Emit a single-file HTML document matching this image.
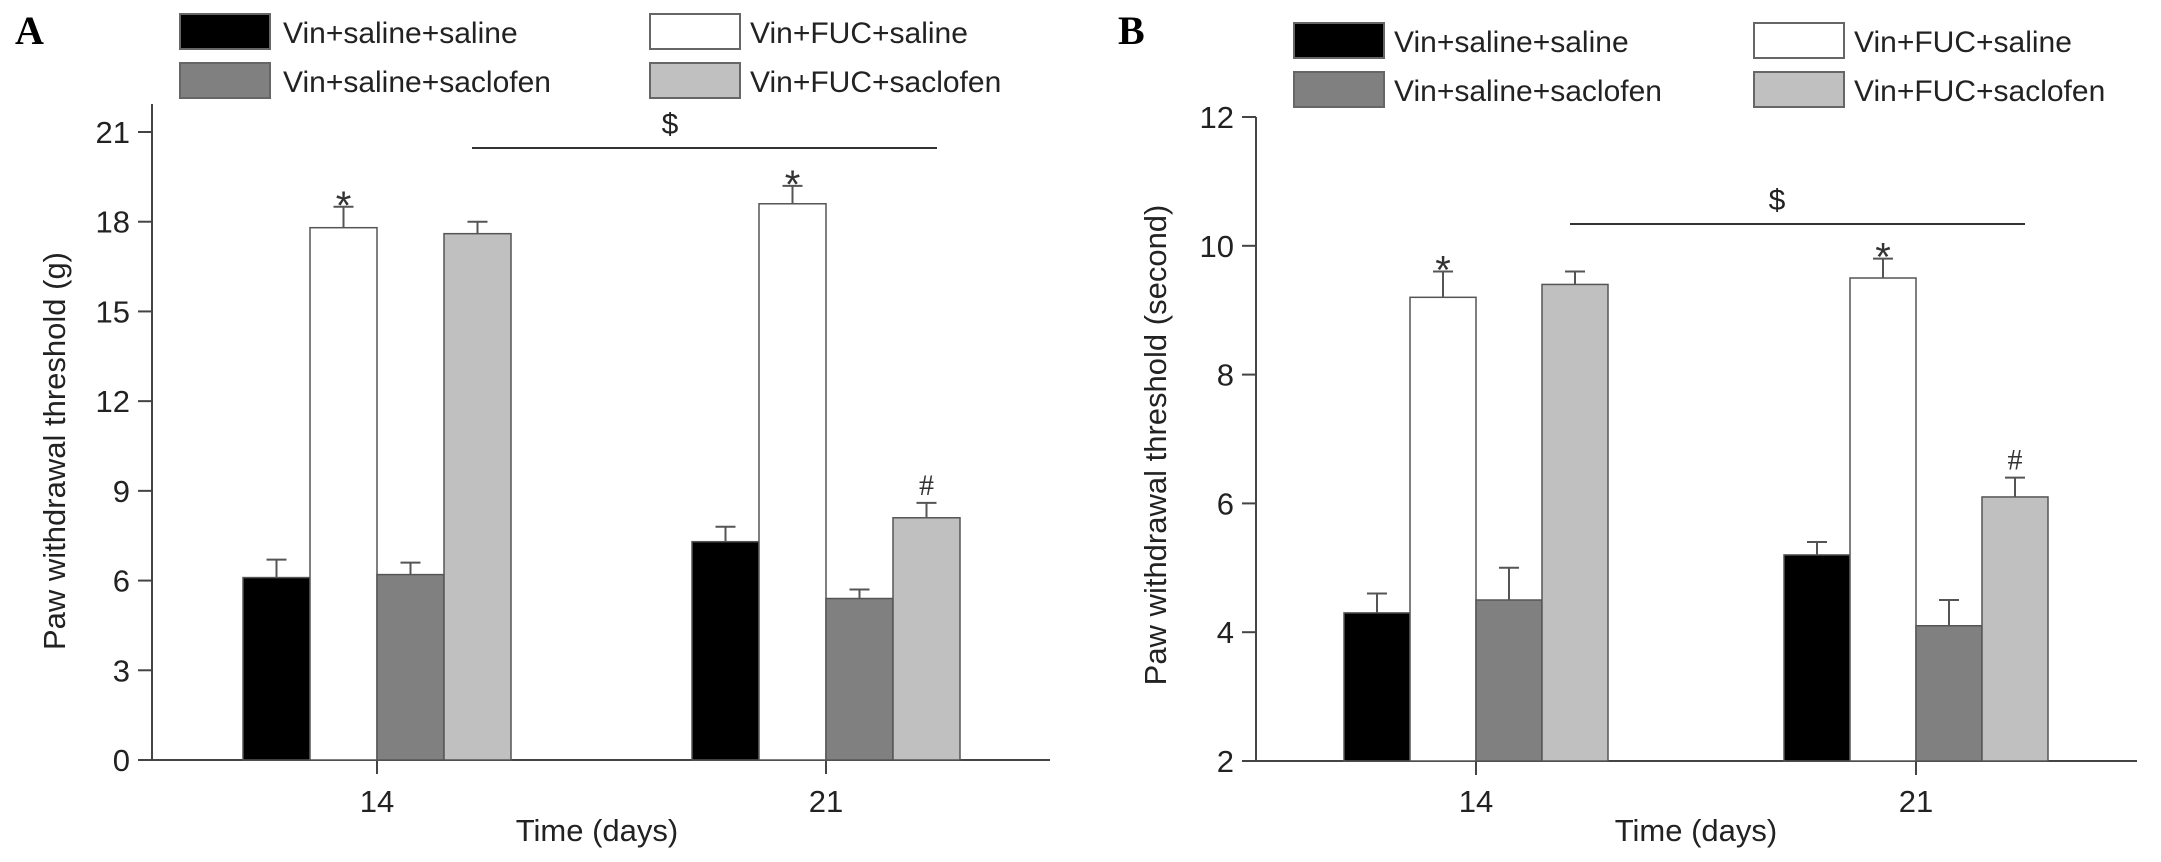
<!DOCTYPE html>
<html><head><meta charset="utf-8"><style>
html,body{margin:0;padding:0;background:#fff;}
svg{display:block;font-family:"Liberation Sans",Arial,sans-serif;}
</style></head><body>
<svg id="chart" width="2161" height="862" viewBox="0 0 2161 862" xmlns="http://www.w3.org/2000/svg"></svg>
<script>
const groups = ["14", "21"];
const seriesNames = ["Vin+saline+saline", "Vin+FUC+saline", "Vin+saline+saclofen", "Vin+FUC+saclofen"];
const seriesColors = ["#000000", "#ffffff", "#808080", "#c0c0c0"];
const aValues = [[6.1, 17.8, 6.2, 17.6], [7.3, 18.6, 5.4, 8.1]];
const aErrors = [[0.6, 0.7, 0.4, 0.4], [0.5, 0.6, 0.3, 0.5]];
const aTicks = [0, 3, 6, 9, 12, 15, 18, 21];
const aMarks = [["", "*", "", ""], ["", "*", "", "#"]];
const bValues = [[4.3, 9.2, 4.5, 9.4], [5.2, 9.5, 4.1, 6.1]];
const bErrors = [[0.3, 0.4, 0.5, 0.2], [0.2, 0.3, 0.4, 0.3]];
const bTicks = [2, 4, 6, 8, 10, 12];
const bMarks = [["", "*", "", ""], ["", "*", "", "#"]];

const NS = "http://www.w3.org/2000/svg";
const svg = document.getElementById("chart");
function mk(tag, attrs, parent, text) {
  const e = document.createElementNS(NS, tag);
  for (const k in attrs) e.setAttribute(k, attrs[k]);
  if (text !== undefined) e.textContent = text;
  (parent || svg).appendChild(e);
  return e;
}

function panel(cfg, values, errors, ticks, marks) {
  const g = mk("g", {});
  
  
  const y = v => cfg.y0 - (v - cfg.vmin) * (cfg.y0 - cfg.ytop) / (cfg.vmax - cfg.vmin);
  const gx = i => cfg.cx[i];
  const L = mk("text", {x: cfg.letterX, y: 44, "font-family": "Liberation Serif,serif", "font-weight": "bold", "font-size": 40}, g, cfg.letter);
  
  
  for (let s = 0; s < 4; s++) {
    const col = s === 0 || s === 2 ? 0 : 1, row = s < 2 ? 0 : 1;
    const lg = mk("g", {}, g);
    
    
    const bx = cfg.legX[col], by = cfg.legY + row * 49;
    mk("rect", {x: bx, y: by, width: cfg.legW, height: 35, fill: seriesColors[s], stroke: "#666", "stroke-width": 2}, lg);
    mk("text", {x: cfg.legTX[col], y: by + 29, "font-size": 30, fill: "#222"}, lg, seriesNames[s]);
  }
  const ax = mk("g", {stroke: "#444", "stroke-width": 2}, g);
  
  
  mk("line", {x1: cfg.ax, y1: cfg.axTop, x2: cfg.ax, y2: cfg.y0}, ax);
  mk("line", {x1: cfg.ax - 14, y1: cfg.y0, x2: cfg.axEnd, y2: cfg.y0}, ax);
  ticks.forEach(t => {
    mk("line", {x1: cfg.ax - 14, y1: y(t), x2: cfg.ax, y2: y(t)}, ax);
    const tl = mk("text", {x: cfg.ax - 22, y: y(t) + 11, "font-size": 31, "text-anchor": "end", fill: "#222", stroke: "none"}, g, String(t));
    
    
  });
  groups.forEach((gname, i) => {
    mk("line", {x1: gx(i), y1: cfg.y0, x2: gx(i), y2: cfg.y0 + 14}, ax);
    const xl = mk("text", {x: gx(i), y: 812, "font-size": 31, "text-anchor": "middle", fill: "#222"}, g, gname);
    
    
  });
  groups.forEach((gname, i) => {
    for (let s = 0; s < 4; s++) {
      const x0 = gx(i) + (s - 2) * cfg.bw;
      const v = values[i][s], e = errors[i][s];
      const b = mk("rect", {x: x0, y: y(v), width: cfg.bw, height: cfg.y0 - y(v), fill: seriesColors[s], stroke: "#555", "stroke-width": 1.5}, g);
      
      
      const cxm = x0 + cfg.bw / 2;
      const eg = mk("g", {stroke: "#555", "stroke-width": 2}, g);
      
      
      mk("line", {x1: cxm, y1: y(v), x2: cxm, y2: y(v + e)}, eg);
      mk("line", {x1: cxm - 10, y1: y(v + e), x2: cxm + 10, y2: y(v + e)}, eg);
      if (marks[i][s]) {
        const star = marks[i][s] === "*";
        const m = mk("text", {x: cxm, y: y(v + e) + (star ? 12 : -8), "font-size": star ? 40 : 30, "text-anchor": "middle", fill: "#333", "font-family": star ? "Liberation Sans,sans-serif" : "Liberation Serif,serif"}, g, marks[i][s]);
        
        
      }
    }
  });
  const sg = mk("g", {}, g);
  
  
  mk("line", {x1: cfg.sx1, y1: cfg.sy, x2: cfg.sx2, y2: cfg.sy, stroke: "#333", "stroke-width": 2}, sg);
  mk("text", {x: cfg.sdx, y: cfg.sy - 14, "font-size": 30, "text-anchor": "middle", fill: "#222"}, sg, "$");
  const xt = mk("text", {x: cfg.xtX, y: 841, "font-size": 31, "text-anchor": "middle", fill: "#222"}, g, "Time (days)");
  
  
  const yt = mk("text", {x: 0, y: 0, "font-size": 31, "text-anchor": "middle", fill: "#222", transform: `translate(${cfg.ytX},${cfg.ytY}) rotate(-90)`}, g, cfg.yTitle);
  
  
}

panel({id: "panel-a", letter: "A", letterX: 15, legX: [180, 650], legTX: [283, 750], legY: 14, legW: 90,
  ax: 152, axTop: 104, axEnd: 1050, y0: 760, ytop: 132, vmin: 0, vmax: 21, cx: [377, 826], bw: 67,
  sx1: 472, sx2: 937, sy: 148, sdx: 670, xtX: 597, ytX: 65, ytY: 451, yTitle: "Paw withdrawal threshold (g)"},
  aValues, aErrors, aTicks, aMarks);
panel({id: "panel-b", letter: "B", letterX: 1118, legX: [1294, 1754], legTX: [1394, 1854], legY: 23, legW: 90,
  ax: 1256, axTop: 117, axEnd: 2137, y0: 761, ytop: 117, vmin: 2, vmax: 12, cx: [1476, 1916], bw: 66,
  sx1: 1570, sx2: 2025, sy: 224, sdx: 1777, xtX: 1696, ytX: 1166, ytY: 445, yTitle: "Paw withdrawal threshold (second)"},
  bValues, bErrors, bTicks, bMarks);
</script>
</body></html>
